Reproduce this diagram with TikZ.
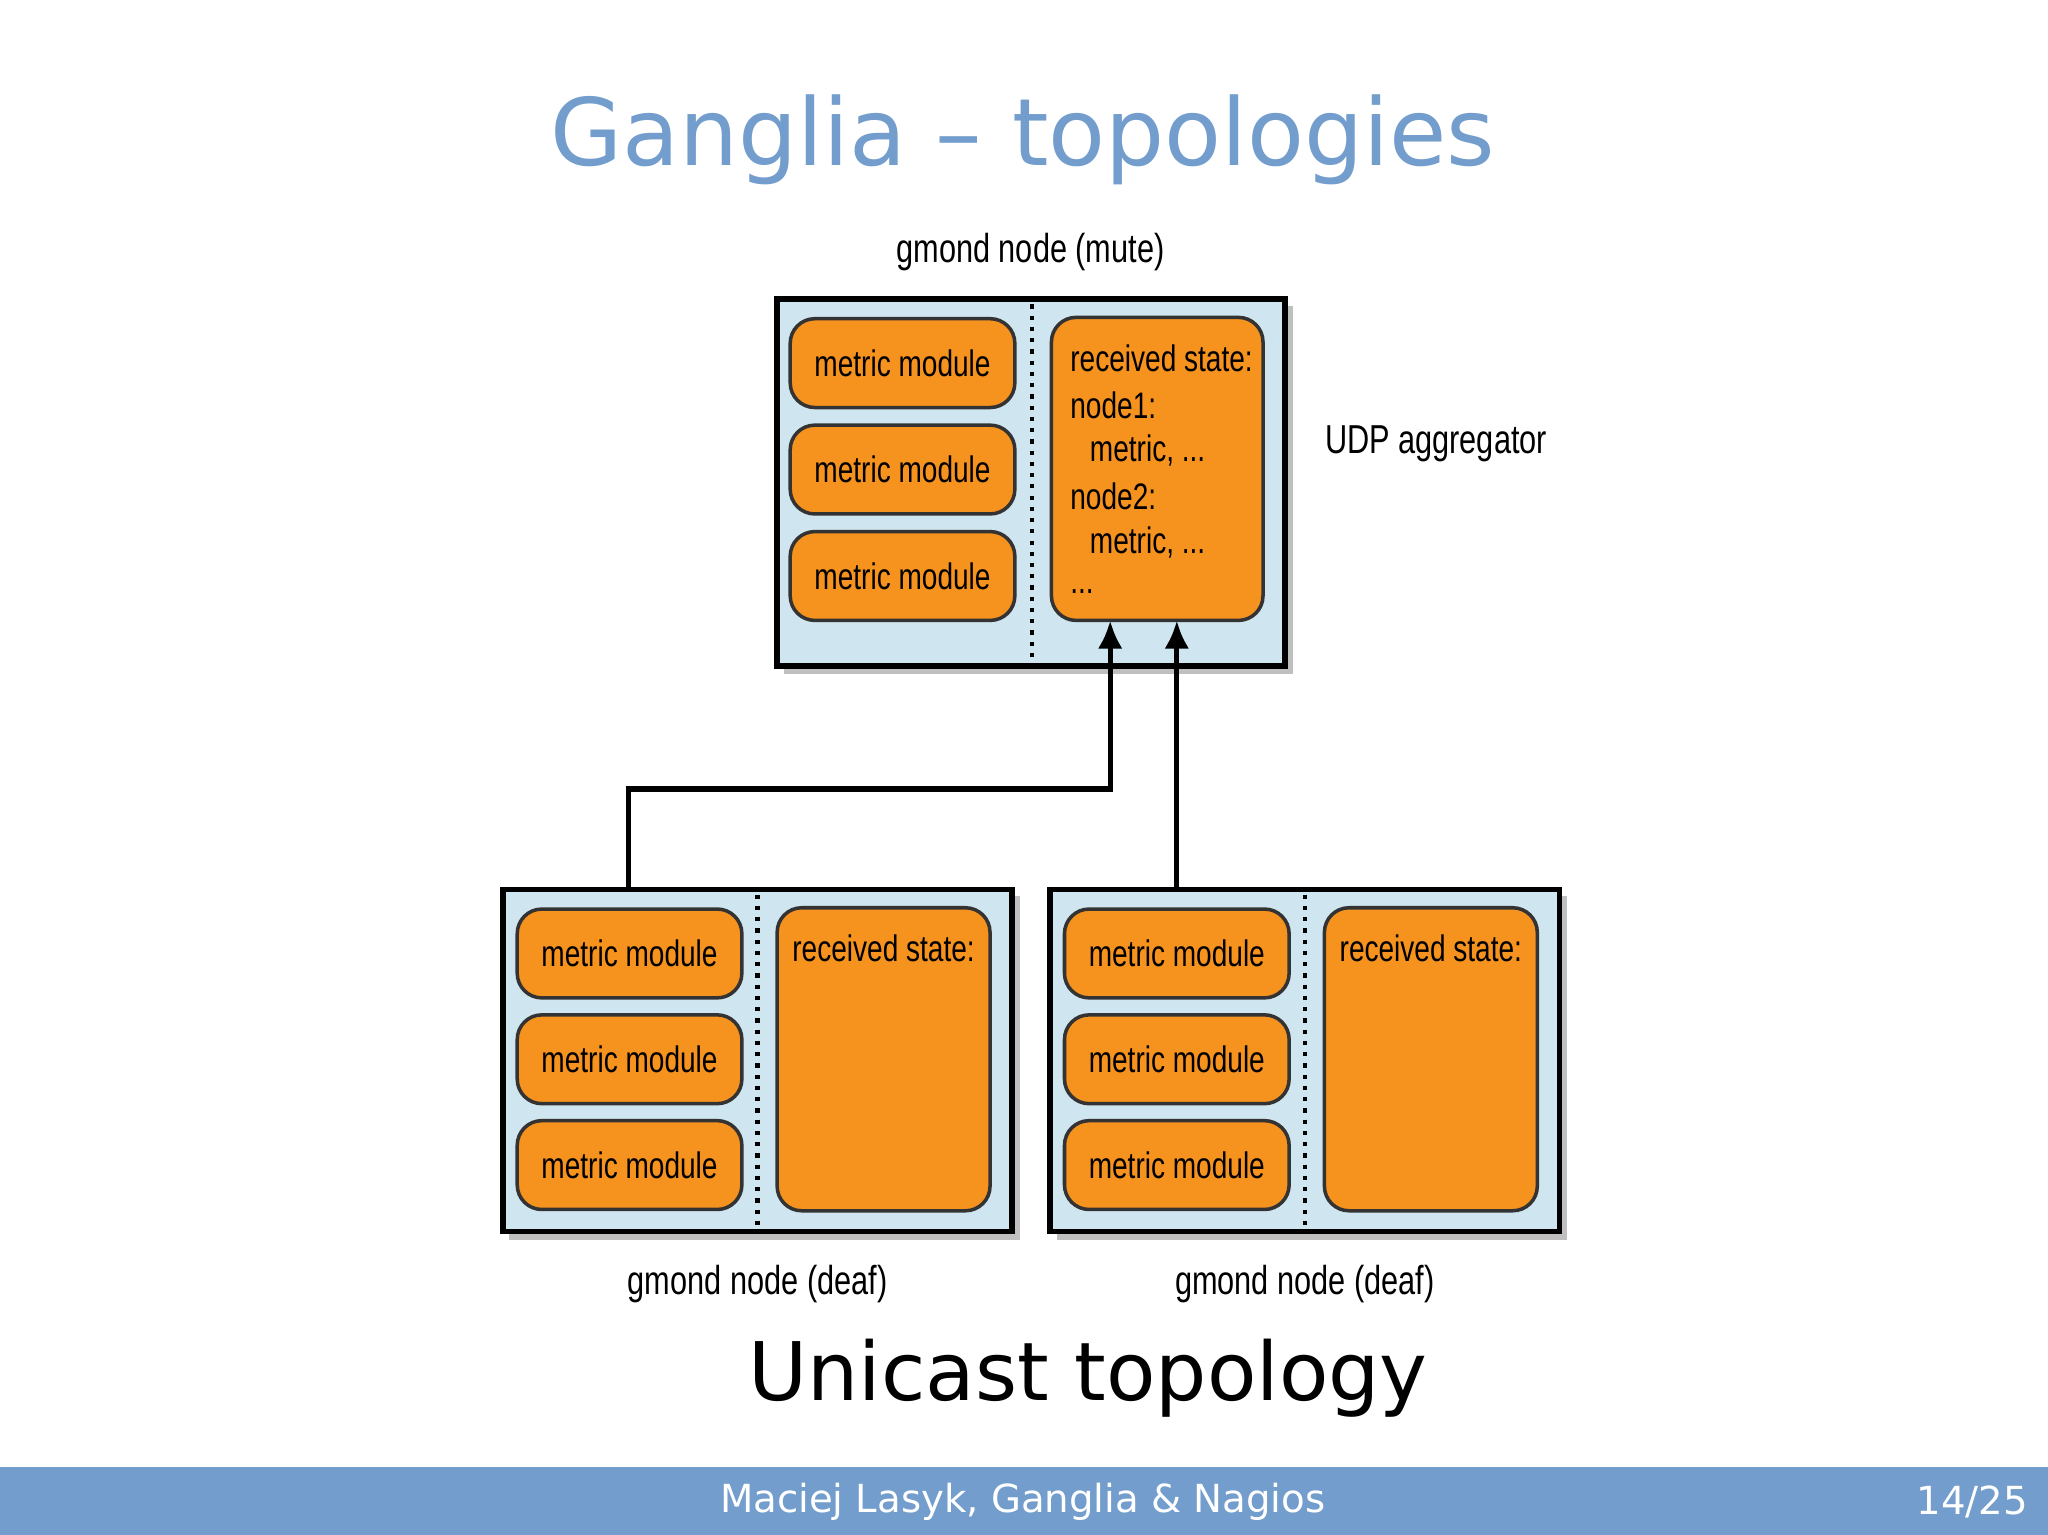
\documentclass[tikz,border=0pt]{standalone}
\usepackage{fontspec}
\setmainfont{DejaVu Sans}
\newfontfamily\cond{Liberation Sans}[FakeStretch=0.76]
\usetikzlibrary{calc,arrows.meta}
\definecolor{titleblue}{RGB}{114,157,204}
\definecolor{boxblue}{RGB}{207,229,240}
\definecolor{modorange}{RGB}{246,146,30}
\tikzset{
  host/.style={draw=black,line width=1.6pt,fill=boxblue,rectangle,inner sep=0pt},
  shade/.style={fill=black!25,draw=none},
  module/.style={draw=black!80,line width=1pt,fill=modorange,rounded corners=7pt,inner sep=0pt},
  sep/.style={line width=1.2pt,dotted},
  lbl/.style={font=\cond\fontsize{10.5}{12}\selectfont},
  outer/.style={font=\cond\fontsize{11.5}{13}\selectfont},
  link/.style={line width=1.5pt,-{Latex[length=8pt,width=7pt]}}
}
\begin{document}
\begin{tikzpicture}[x=0.01306cm,y=-0.01306cm]
\fill[white] (0,0) rectangle (1568,1175);
\useasboundingbox (0,0) rectangle (1568,1175);
% title and footer
\node[text=titleblue,font=\fontsize{26.5}{28}\selectfont] (title) at (783,107) {Ganglia -- topologies};
\node[font=\fontsize{23}{25}\selectfont] (caption) at (833,1055) {Unicast topology};
\fill[titleblue] (0,1123) rectangle (1568,1175);
\node[text=white,font=\fontsize{11}{13}\selectfont] (foot) at (783,1150) {Maciej Lasyk, Ganglia \& Nagios};
\node[text=white,font=\fontsize{11}{13}\selectfont] (page) at (1510,1150) {14/25};
% shadows
\fill[shade] (600,234) rectangle (990,516);
\fill[shade] (390,686) rectangle (781,949);
\fill[shade] (809,686) rectangle (1200,949);
% top host
\node[host,minimum width=389*0.01306cm,minimum height=281*0.01306cm] (top) at (789.5,369.5) {};
\draw[sep] (790,233) -- (790,506);
\foreach \y/\n in {278/1,359.5/2,441/3}
  \node[module,lbl,minimum width=172*0.01306cm,minimum height=68*0.01306cm] (tm\n) at (691,\y) {metric module};
\node[module,minimum width=162*0.01306cm,minimum height=232*0.01306cm] (trs) at (886,359) {};
\node[lbl,anchor=west] (t1) at (810,274) {received state:};
\node[lbl,anchor=west] (t2) at (810,310) {node1:};
\node[lbl,anchor=west] (t3) at (825,345) {metric, ...};
\node[lbl,anchor=west] (t4) at (810,380) {node2:};
\node[lbl,anchor=west] (t5) at (825,415) {metric, ...};
\node[lbl,anchor=west] (t6) at (810,453) {...};
\node[outer] (mute) at (789,193) {gmond node (mute)};
\node[outer,anchor=west] (udp) at (1005,340) {UDP aggregator};
% bottom hosts
\foreach \dx/\s in {0/a,419/b}{
  \node[host,minimum width=390*0.01306cm,minimum height=262*0.01306cm] (h\s) at (580+\dx,812) {};
  \draw[sep] (580+\dx,685) -- (580+\dx,939);
  \foreach \y/\n in {730/1,811/2,892/3}
    \node[module,lbl,minimum width=172*0.01306cm,minimum height=68*0.01306cm] (m\s\n) at (482+\dx,\y) {metric module};
  \node[module,minimum width=163*0.01306cm,minimum height=232*0.01306cm] (rs\s) at (676.5+\dx,811) {};
  \node[lbl] (rt\s) at (676.5+\dx,726) {received state:};
  \node[outer] (d\s) at (580+\dx,983) {gmond node (deaf)};
}
% links
\coordinate (ea) at (481,681);
\coordinate (ta) at (850,475);
\coordinate (eb) at (901,681);
\coordinate (tb) at (901,475);
\draw[link] (ea) -- (481,604) -- (850,604) -- (ta);
\draw[link] (eb) -- (tb);
\end{tikzpicture}
\end{document}
